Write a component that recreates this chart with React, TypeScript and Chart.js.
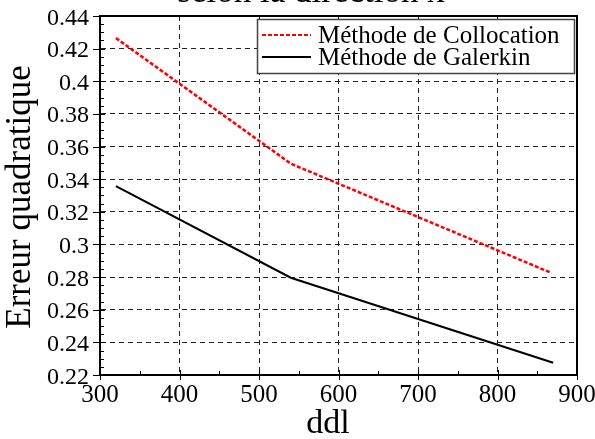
import React, { useEffect, useRef } from "react";
import { Chart, registerables } from "chart.js";

Chart.register(...registerables);

const ddlCollocation = [320, 540, 868];
const erreurCollocation = [0.4265, 0.3495, 0.2825];
const ddlGalerkin = [320, 540, 870];
const erreurGalerkin = [0.3358, 0.2796, 0.2275];
const xTickValues = [300, 400, 500, 600, 700, 800, 900];
const yTickValues = [0.22, 0.24, 0.26, 0.28, 0.3, 0.32, 0.34, 0.36, 0.38, 0.4, 0.42, 0.44];
const seriesNames = ["Méthode de Collocation", "Méthode de Galerkin"];
const titleText = "selon la direction x";
const xTitle = "ddl";
const yTitle = "Erreur quadratique";

const FONT = "'Liberation Serif', serif";
Chart.defaults.font.family = "Liberation Serif";

const decorPlugin = {
  id: "decor",
  afterDraw(chart: any) {
    const { ctx, chartArea: a, scales } = chart;
    const xs = scales.x;
    const ys = scales.y;
    ctx.save();
    ctx.strokeStyle = "#000";
    ctx.lineWidth = 2;
    ctx.strokeRect(a.left, a.top, a.right - a.left, a.bottom - a.top);
    ctx.lineWidth = 1;
    for (let v = 300; v <= 900; v += 100) {
      const px = Math.round(xs.getPixelForValue(v)) + 0.5;
      ctx.beginPath();
      ctx.moveTo(px, a.bottom - 5);
      ctx.lineTo(px, a.bottom + 5);
      ctx.stroke();
    }
    for (let v = 350; v < 900; v += 100) {
      const px = Math.round(xs.getPixelForValue(v)) + 0.5;
      ctx.beginPath();
      ctx.moveTo(px, a.bottom - 4);
      ctx.lineTo(px, a.bottom);
      ctx.stroke();
    }
    for (let i = 0; i <= 44; i++) {
      const v = 0.22 + i * 0.005;
      const py = Math.round(ys.getPixelForValue(v)) + 0.5;
      const major = i % 4 === 0;
      ctx.beginPath();
      if (major) {
        ctx.moveTo(a.left - 7, py);
        ctx.lineTo(a.left + 5, py);
      } else {
        ctx.moveTo(a.left, py);
        ctx.lineTo(a.left + 4, py);
      }
      ctx.stroke();
    }
    // tick labels
    ctx.fillStyle = "#000";
    ctx.textBaseline = "alphabetic";
    ctx.font = `25px ${FONT}`;
    ctx.textAlign = "center";
    for (const v of xTickValues) {
      ctx.fillText(String(v), xs.getPixelForValue(v), a.bottom + 27);
    }
    ctx.font = `24px ${FONT}`;
    ctx.textAlign = "right";
    for (const v of yTickValues) {
      ctx.fillText(String(v), a.left - 11, ys.getPixelForValue(v) + 8.5);
    }
    // legend
    const lx = 257, ly = 19, lw = 317, lh = 54;
    ctx.fillStyle = "#fff";
    ctx.fillRect(lx, ly, lw, lh);
    ctx.strokeStyle = "#444";
    ctx.lineWidth = 1.5;
    ctx.strokeRect(lx + 0.5, ly + 0.5, lw, lh);
    ctx.lineWidth = 2;
    ctx.strokeStyle = "#ff0000";
    ctx.setLineDash([4, 2]);
    ctx.beginPath();
    ctx.moveTo(262, 35);
    ctx.lineTo(311, 35);
    ctx.stroke();
    ctx.setLineDash([]);
    ctx.strokeStyle = "#000";
    ctx.beginPath();
    ctx.moveTo(262, 57);
    ctx.lineTo(311, 57);
    ctx.stroke();
    ctx.fillStyle = "#000";
    ctx.font = `25px ${FONT}`;
    ctx.textAlign = "left";
    ctx.fillText(seriesNames[0], 318, 43);
    ctx.fillText(seriesNames[1], 318, 65);
    ctx.font = `34px ${FONT}`;
    ctx.textAlign = "center";
    ctx.fillText(xTitle, 328, 433);
    ctx.save();
    ctx.translate(30, 197);
    ctx.rotate(-Math.PI / 2);
    ctx.font = `35px ${FONT}`;
    ctx.fillText(yTitle, 0, 0);
    ctx.restore();
    ctx.font = `35px ${FONT}`;
    ctx.fillText(titleText, 311, 2);
    ctx.restore();
  },
};

export default function App() {
  const ref = useRef<HTMLCanvasElement | null>(null);
  useEffect(() => {
    if (!ref.current) return;
    const chart = new Chart(ref.current, {
      type: "line",
      data: {
        datasets: [
          {
            label: seriesNames[0],
            data: ddlCollocation.map((x, i) => ({ x, y: erreurCollocation[i] })),
            borderColor: "#ff0000",
            borderWidth: 2.5,
            borderDash: [4, 2],
            pointRadius: 0,
            fill: false,
            tension: 0,
          },
          {
            label: seriesNames[1],
            data: ddlGalerkin.map((x, i) => ({ x, y: erreurGalerkin[i] })),
            borderColor: "#000",
            borderWidth: 2,
            pointRadius: 0,
            fill: false,
            tension: 0,
          },
        ],
      },
      options: {
        responsive: false,
        animation: false,
        layout: { padding: { top: 16, right: 18, left: 0, bottom: 0 } },
        plugins: { legend: { display: false }, tooltip: { enabled: false } },
        scales: {
          x: {
            type: "linear",
            min: 300,
            max: 900,
            afterFit: (s: any) => { s.height = 64; },
            ticks: { stepSize: 100, display: false },
            grid: { color: "#222", lineWidth: 1, drawTicks: false },
            border: { display: true, color: "#000", width: 2, dash: [5, 4] },
          },
          y: {
            type: "linear",
            min: 0.22,
            max: 0.44,
            afterFit: (s: any) => { s.width = 100; },
            ticks: { stepSize: 0.02, display: false },
            grid: { color: "#222", lineWidth: 1, drawTicks: false },
            border: { display: true, color: "#000", width: 2, dash: [5, 4] },
          },
        },
      },
      plugins: [decorPlugin],
    });
    return () => chart.destroy();
  }, []);
  return (
    <div style={{ position: "fixed", left: 0, top: 0, width: 595, height: 439, background: "#fff" }}>
      <canvas ref={ref} width={595} height={439} style={{ display: "block" }} />
    </div>
  );
}
